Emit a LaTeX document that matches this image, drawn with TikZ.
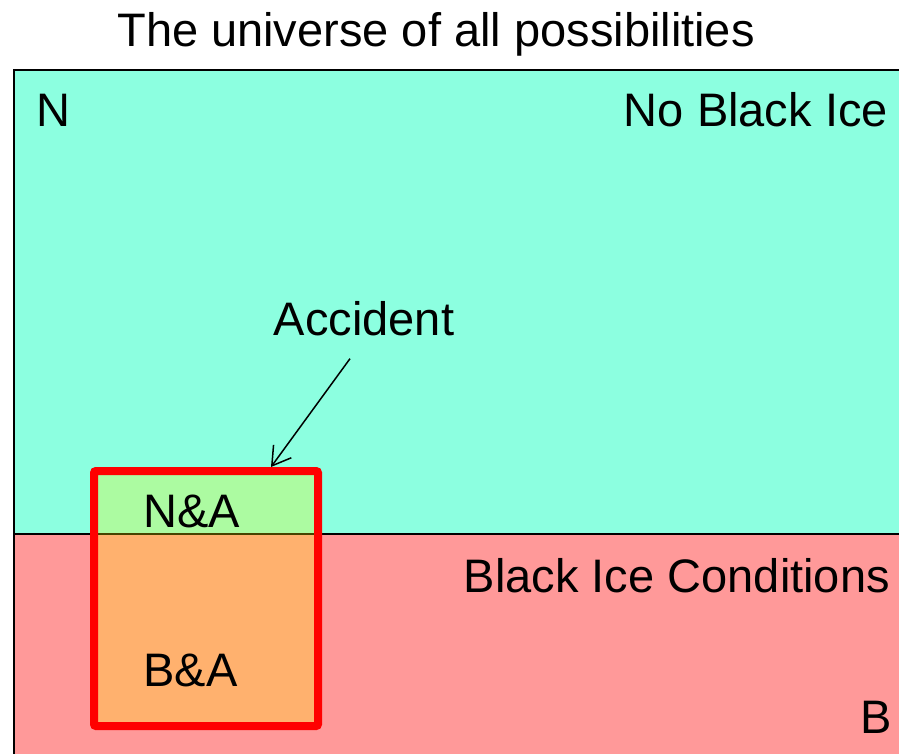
\documentclass[tikz,border=0pt]{standalone}
\usepackage{fontspec}
\setmainfont{Liberation Sans}
\usetikzlibrary{arrows.meta}
\definecolor{noicefill}{RGB}{140,255,224}
\definecolor{icefill}{RGB}{255,153,153}
\tikzset{lbl/.style={font=\fontsize{47}{56}\selectfont,inner sep=0pt}}
\begin{document}
\begin{tikzpicture}[x=1pt,y=-1pt]
  \useasboundingbox (0,0) rectangle (899,754);
  \clip (0,0) rectangle (899,754);
  \fill[noicefill] (14,70) rectangle (910,534);
  \fill[icefill] (14,534) rectangle (910,770);
  \draw[line width=2pt] (14,770)--(14,70)--(910,70) (14,534)--(910,534);
  \draw[red,line width=8pt,rounded corners=2pt,fill=yellow,fill opacity=.28] (94,471) rectangle (318,726);
  \node[lbl,anchor=base] (title) at (436,47) {The universe of all possibilities};
  \node[lbl,anchor=base west] (n) at (36,127) {N};
  \node[lbl,anchor=base east] (noice) at (888,127) {No Black Ice};
  \node[lbl,anchor=base east] (ice) at (890,592) {Black Ice Conditions};
  \node[lbl,anchor=base east] (b) at (892,733) {B};
  \node[lbl,anchor=base] (acc) at (364,335) {Accident};
  \node[lbl,anchor=base] (na) at (192,527) {N\&A};
  \node[lbl,anchor=base] (ba) at (190.5,686) {B\&A};
  \coordinate (hit) at (271,467);
  \draw[-{Straight Barb[length=18pt,width=22pt]},line width=1.5pt] ([xshift=-14pt,yshift=-23pt]acc.south)--(hit);
\end{tikzpicture}
\end{document}
